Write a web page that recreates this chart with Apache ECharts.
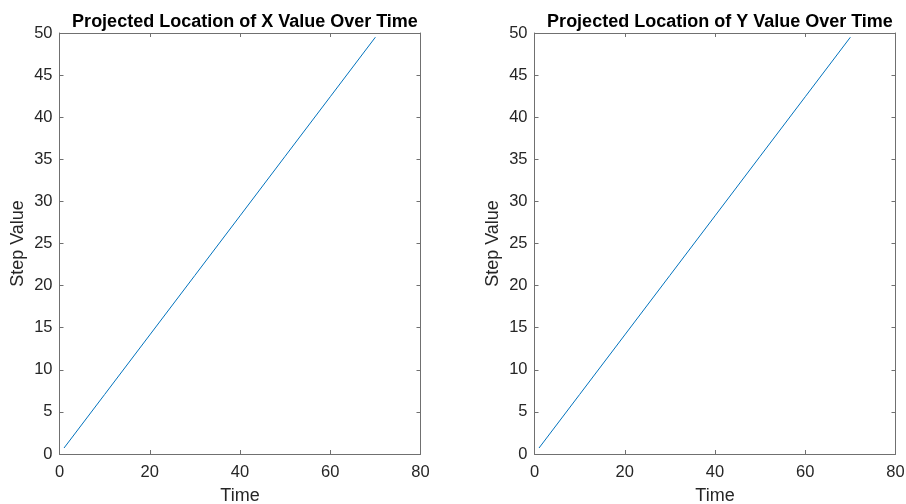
<!DOCTYPE html>
<html><head><meta charset="utf-8">
<script src="https://cdn.jsdelivr.net/npm/echarts@6/dist/echarts.min.js"></script>
<style>html,body{margin:0;padding:0;background:#fff}#c{width:906px;height:504px}</style>
</head><body><div id="c"></div>
<script>
const times = [1, 10, 20, 30, 40, 50, 60, 70];
const xValues = [0.71, 7.07, 14.14, 21.21, 28.28, 35.36, 42.43, 49.5];
const yValues = [0.71, 7.07, 14.14, 21.21, 28.28, 35.36, 42.43, 49.5];
const titles = ['Projected Location of X Value Over Time', 'Projected Location of Y Value Over Time'];
const xTicks = [0, 20, 40, 60, 80];
const yTicks = [0, 5, 10, 15, 20, 25, 30, 35, 40, 45, 50];

const FONT = 'Liberation Sans';
const AX = '#262626';
const AXLINE = '#707070';
const chart = echarts.init(document.getElementById('c'));
const grids = [
  {left: 59.5, top: 33, width: 361, height: 421, outerBoundsMode: 'none', containLabel: false},
  {left: 534.5, top: 33, width: 361, height: 421, outerBoundsMode: 'none', containLabel: false}
];
const xAxes = [], yAxes = [], series = [], titleOpts = [];
grids.forEach((g, i) => {
  const lineStyle = {color: AXLINE, width: 1};
  xAxes.push({gridIndex: i, type: 'value', min: xTicks[0], max: xTicks[xTicks.length-1], interval: 20,
    name: 'Time', nameLocation: 'middle', nameGap: 33,
    nameTextStyle: {fontFamily: FONT, fontSize: 18, color: AX},
    axisLine: {onZero: false, lineStyle}, axisTick: {inside: true, length: 4, lineStyle},
    axisLabel: {fontFamily: FONT, fontSize: 16.5, color: AX, margin: 10},
    splitLine: {show: false}});
  xAxes.push({gridIndex: i, type: 'value', position: 'top', min: 0, max: 80, interval: 20,
    axisLine: {onZero: false, lineStyle}, axisTick: {inside: true, length: 4, lineStyle},
    axisLabel: {show: false}, splitLine: {show: false}});
  yAxes.push({gridIndex: i, type: 'value', min: yTicks[0], max: yTicks[yTicks.length-1], interval: 5,
    name: 'Step Value', nameLocation: 'middle', nameGap: 32, nameRotate: 90,
    nameTextStyle: {fontFamily: FONT, fontSize: 18, color: AX},
    axisLine: {show: true, onZero: false, lineStyle}, axisTick: {show: true, inside: true, length: 4, lineStyle},
    axisLabel: {fontFamily: FONT, fontSize: 16.5, color: AX, margin: 7},
    splitLine: {show: false}});
  yAxes.push({gridIndex: i, type: 'value', position: 'right', min: 0, max: 50, interval: 5,
    axisLine: {show: true, onZero: false, lineStyle}, axisTick: {show: true, inside: true, length: 4, lineStyle},
    axisLabel: {show: false}, splitLine: {show: false}});
  const vals = i === 0 ? xValues : yValues;
  series.push({type: 'line', xAxisIndex: i*2, yAxisIndex: i*2, symbol: 'none',
    data: times.map((t, k) => [t, vals[k]]),
    lineStyle: {color: '#0072BD', width: 1}, animation: false});
  titleOpts.push({text: titles[i], left: g.left + g.width/2, top: 8, textAlign: 'center',
    textStyle: {fontFamily: FONT, fontSize: 18, fontWeight: 'bold', color: '#000'}});
});
chart.setOption({
  animation: false,
  title: titleOpts,
  grid: grids,
  xAxis: xAxes,
  yAxis: yAxes,
  series: series
});
</script></body></html>
